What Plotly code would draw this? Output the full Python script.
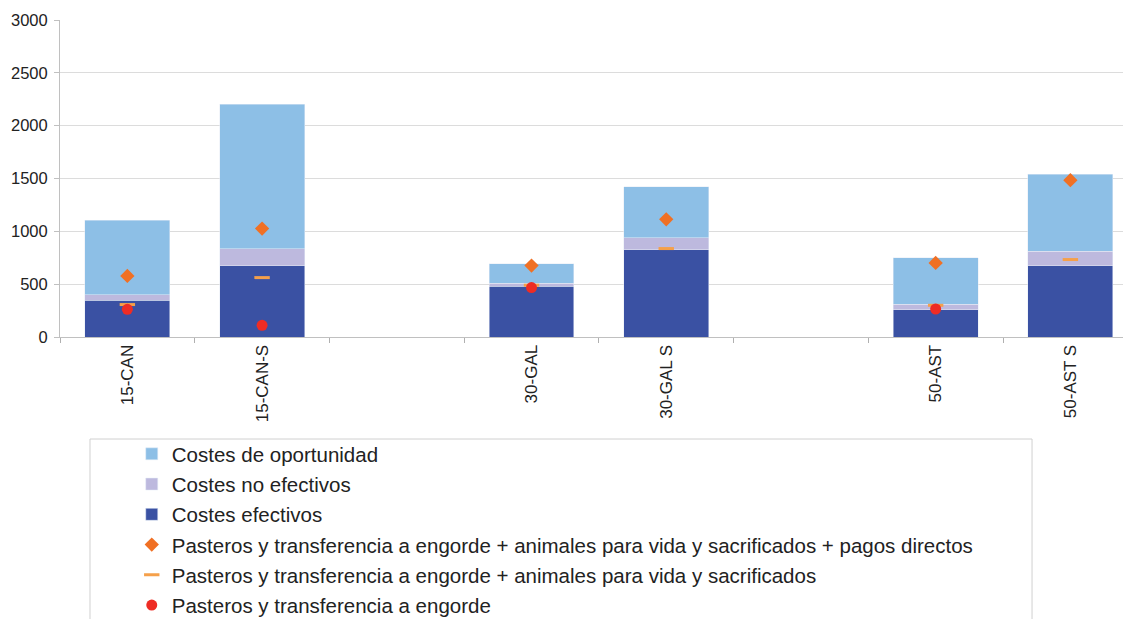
import plotly.graph_objects as go

categories = ["15-CAN", "15-CAN-S", "", "30-GAL", "30-GAL S", " ", "50-AST", "50-AST S"]
costes_efectivos = [347, 672, None, 480, 827, None, 259, 676]
costes_no_efectivos = [54, 165, None, 31, 114, None, 51, 136]
costes_oportunidad = [704, 1364, None, 184, 479, None, 438, 729]
pagos_directos = [578, 1026, None, 676, 1114, None, 701, 1484]
animales_vida = [307, 562, None, 490, 837, None, 300, 733]
transferencia = [262, 111, None, 468, None, None, 265, None]

names = [
    "Costes de oportunidad",
    "Costes no efectivos",
    "Costes efectivos",
    "Pasteros y transferencia a engorde + animales para vida y sacrificados + pagos directos",
    "Pasteros y transferencia a engorde + animales para vida y sacrificados",
    "Pasteros y transferencia a engorde",
]

fig = go.Figure()
bw = 0.63
fig.add_trace(go.Bar(x=categories, y=costes_efectivos, name=names[2], marker_color="#3A51A3",
                     width=bw, legendrank=3, legendgroup="g3"))
fig.add_trace(go.Bar(x=categories, y=costes_no_efectivos, name=names[1], marker_color="#BDB9DE",
                     width=bw, legendrank=2, legendgroup="g2"))
fig.add_trace(go.Bar(x=categories, y=costes_oportunidad, name=names[0], marker_color="#8DBFE6",
                     width=bw, legendrank=1, legendgroup="g1"))
fig.add_trace(go.Scatter(x=categories, y=pagos_directos, name=names[3], mode="markers",
                         marker=dict(symbol="diamond", size=11, color="#F07024"),
                         legendrank=4, legendgroup="g4"))
fig.add_trace(go.Scatter(x=categories, y=animales_vida, name=names[4], mode="markers",
                         marker=dict(symbol="line-ew", size=11, color="#F5A04A",
                                     line=dict(width=3, color="#F5A04A")),
                         legendrank=5, legendgroup="g5"))
fig.add_trace(go.Scatter(x=categories, y=transferencia, name=names[5], mode="markers",
                         marker=dict(symbol="circle", size=11, color="#EE2C24"),
                         legendrank=6, legendgroup="g6"))

fig.update_layout(
    width=1123, height=611,
    margin=dict(l=52, r=0, t=12, b=282, autoexpand=False),
    barmode="stack",
    plot_bgcolor="white", paper_bgcolor="white",
    font=dict(family="Liberation Sans, Arial, sans-serif", color="#222222"),
    xaxis=dict(
        type="category", categoryorder="array", categoryarray=categories,
        range=[-0.5, 7.45], tickangle=-90, tickfont=dict(size=17, color="#222222"),
        ticks="outside", tickson="boundaries", ticklen=5, tickcolor="#b0b0b0",
        showline=True, linecolor="#c0c0c0", linewidth=1, showgrid=False,
        automargin=False,
    ),
    yaxis=dict(
        range=[0, 3000], dtick=500, tickfont=dict(size=16.5, color="#222222"),
        showgrid=True, gridcolor="#dcdcdc", gridwidth=1,
        showline=True, linecolor="#c0c0c0", linewidth=1, zeroline=False,
        ticks="outside", ticklen=5, tickcolor="#c0c0c0",
        automargin=False, ticklabelstandoff=3,
    ),
    showlegend=True,
    legend=dict(
        x=0.067, xanchor="left", y=-0.306, yanchor="top",
        traceorder="grouped", tracegroupgap=0.6,
        font=dict(size=20.5, color="#222222"),
        bgcolor="rgba(0,0,0,0)", borderwidth=0,
    ),
    shapes=[dict(type="rect", xref="paper", yref="paper",
                 x0=0.028, x1=0.9076, y0=-0.3218, y1=-0.95,
                 line=dict(color="#d0d0d0", width=1), layer="below")],
)

fig.write_html("out.html")
